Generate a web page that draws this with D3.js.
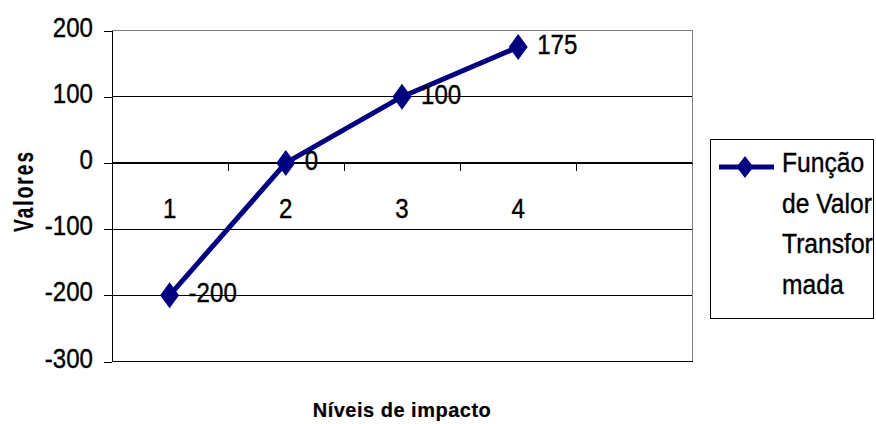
<!DOCTYPE html>
<html>
<head>
<meta charset="utf-8">
<script src="https://cdn.jsdelivr.net/npm/d3@7"></script>
<style>
  body { margin: 0; background: #fff; }
  svg { display: block; }
  text { font-family: Arial, "Liberation Sans", sans-serif; fill: #000; }
</style>
</head>
<body>
<svg id="chart" width="876" height="424"></svg>
<script>
// Chart data
const categories = ["1", "2", "3", "4", ""];
const values = [-200, 0, 100, 175, null];
const yTicks = [-300, -200, -100, 0, 100, 200];
const legendLines = ["Função", "de Valor", "Transfor", "mada"];
const xTitle = "Níveis de impacto";
const yTitle = "Valores";

const navy = "#000080";
const svg = d3.select("#chart");

const plot = { left: 111.5, right: 692.5, top: 30.5, bottom: 361.5 };

const x = d3.scaleBand()
  .domain(d3.range(categories.length))
  .range([plot.left, plot.right]);
const cx = i => x(i) + x.bandwidth() / 2;

const y = d3.scaleLinear()
  .domain([d3.min(yTicks), d3.max(yTicks)])
  .range([plot.bottom, plot.top]);

// Text helper: condensed glyphs via a horizontal scale
function label(parent, px, py, str, opts = {}) {
  const g = parent.append("g").attr("transform", `translate(${px},${py})${opts.rotate ? ` rotate(${opts.rotate})` : ""}`);
  g.append("text")
    .attr("transform", `scale(${opts.sx || 1},1)`)
    .attr("text-anchor", opts.anchor || "start")
    .style("font-size", (opts.size || 28) + "px")
    .style("font-weight", opts.weight || "normal")
    .style("letter-spacing", opts.ls ? opts.ls + "px" : null)
    .style("stroke", "#000")
    .style("stroke-width", opts.sw != null ? opts.sw : 0.4)
    .text(str);
  return g;
}

// Horizontal gridlines
svg.append("g")
  .selectAll("line")
  .data(yTicks.filter(t => t !== d3.min(yTicks) && t !== d3.max(yTicks)))
  .join("line")
  .attr("x1", plot.left).attr("x2", plot.right)
  .attr("y1", d => y(d)).attr("y2", d => y(d))
  .attr("stroke", "#000").attr("stroke-width", 1)
  .attr("shape-rendering", "crispEdges");

// Plot frame: top and right in gray, bottom in black
svg.append("line")
  .attr("x1", plot.left).attr("x2", plot.right)
  .attr("y1", y(d3.max(yTicks))).attr("y2", y(d3.max(yTicks)))
  .attr("stroke", "#808080").attr("shape-rendering", "crispEdges");
svg.append("line")
  .attr("x1", plot.right).attr("x2", plot.right)
  .attr("y1", plot.top).attr("y2", plot.bottom)
  .attr("stroke", "#808080").attr("shape-rendering", "crispEdges");
svg.append("line")
  .attr("x1", plot.left).attr("x2", plot.right)
  .attr("y1", plot.bottom).attr("y2", plot.bottom)
  .attr("stroke", "#000").attr("shape-rendering", "crispEdges");

// Value axis
const yAxis = svg.append("g")
  .attr("transform", `translate(${plot.left},0)`)
  .call(d3.axisLeft(y).tickValues(yTicks).tickSize(8).tickSizeOuter(0).tickFormat(""));
yAxis.selectAll("path, line").attr("stroke", "#000").attr("shape-rendering", "crispEdges");
yAxis.selectAll(".tick text").remove();

const yLabels = svg.append("g");
yTicks.forEach(t => label(yLabels, 93, y(t) + 6, String(t), { anchor: "end", sx: 0.86 }));

// Category axis along the zero line, ticks at category boundaries
const xb = d3.scaleLinear().domain([0, categories.length]).range([plot.left, plot.right]);
const xAxis = svg.append("g")
  .attr("transform", `translate(0,${y(0)})`)
  .call(d3.axisBottom(xb).tickValues(d3.range(1, categories.length)).tickSize(8).tickSizeOuter(0).tickFormat(""));
xAxis.selectAll("path, line").attr("stroke", "#000").attr("shape-rendering", "crispEdges");

const xLabels = svg.append("g");
categories.forEach((c, i) => { if (c) label(xLabels, cx(i), y(0) + 55, c, { anchor: "middle", sx: 0.86 }); });

// Series line
const line = d3.line()
  .defined(d => d != null)
  .x((d, i) => cx(i))
  .y(d => y(d));
svg.append("path")
  .datum(values)
  .attr("d", line)
  .attr("fill", "none")
  .attr("stroke", navy)
  .attr("stroke-width", 5)
  .attr("stroke-linejoin", "round");

// Diamond markers
const diamond = (w, h) => `M0,${-h / 2}L${w / 2},0L0,${h / 2}L${-w / 2},0Z`;
const pts = values.map((v, i) => ({ v, i })).filter(d => d.v != null);
svg.append("g")
  .selectAll("path")
  .data(pts)
  .join("path")
  .attr("transform", d => `translate(${cx(d.i)},${y(d.v)})`)
  .attr("d", diamond(19, 26))
  .attr("fill", navy);

// Data labels
const dl = svg.append("g");
pts.forEach(d => label(dl, cx(d.i) + 19, y(d.v) + 7, String(d.v), { sx: 0.86 }));

// Axis titles
label(svg, (plot.left + plot.right) / 2, 417, xTitle, { anchor: "middle", size: 20, weight: "bold", ls: 0.5, sw: 0.2 });
label(svg, 33, 191, yTitle, { anchor: "middle", size: 28, weight: "bold", sx: 0.68, ls: 3, rotate: -90, sw: 0.2 });

// Legend
const lg = svg.append("g");
lg.append("rect")
  .attr("x", 710.5).attr("y", 139.5).attr("width", 163).attr("height", 179)
  .attr("fill", "#fff").attr("stroke", "#000").attr("stroke-width", 1);
lg.append("line")
  .attr("x1", 719).attr("x2", 774).attr("y1", 167).attr("y2", 167)
  .attr("stroke", navy).attr("stroke-width", 5);
lg.append("path")
  .attr("transform", "translate(745,167)")
  .attr("d", diamond(17, 22))
  .attr("fill", navy);
legendLines.forEach((s, i) => label(lg, 782, 172 + i * 40.6, s, { sx: 0.88 }));
</script>
</body>
</html>
